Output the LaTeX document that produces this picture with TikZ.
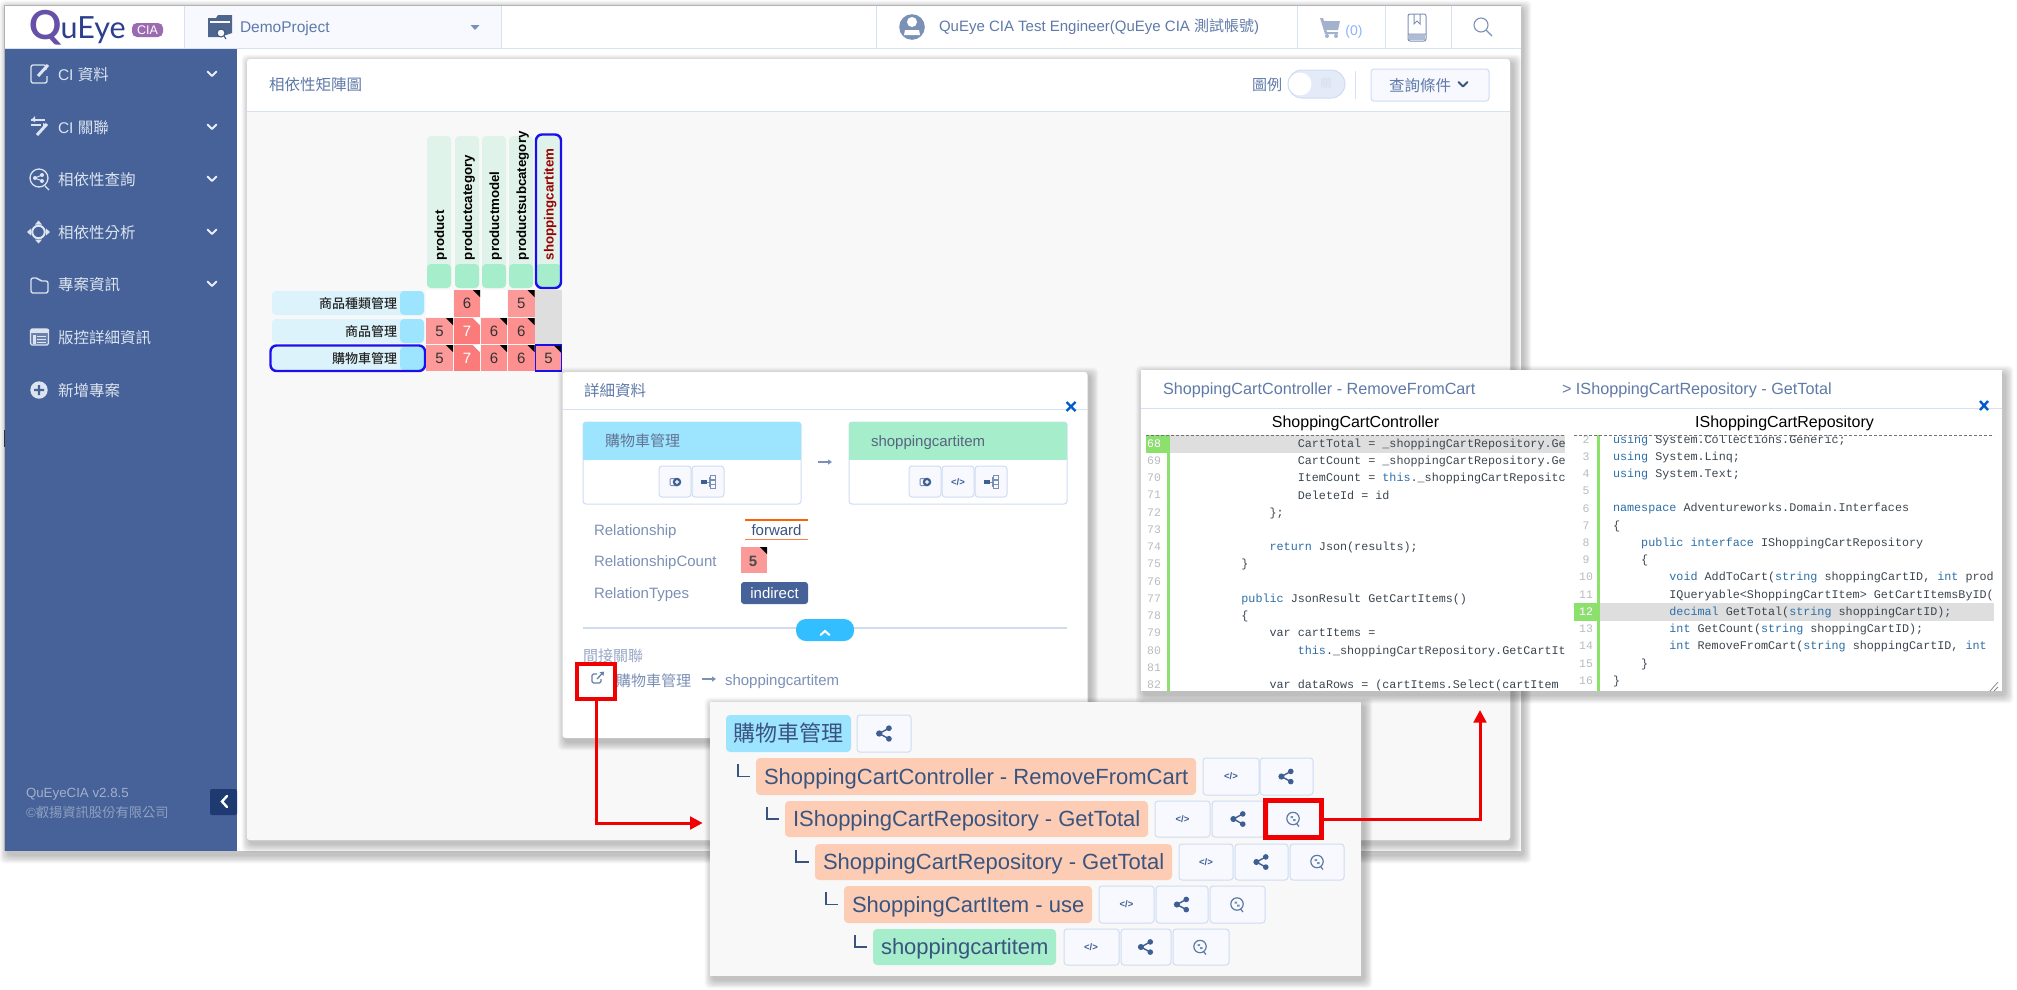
\documentclass[tikz,border=0pt]{standalone}
\usepackage{fontspec}
\usetikzlibrary{arrows.meta,calc}
\setmainfont{Liberation Sans}
\newfontfamily\cjk{Noto Sans CJK TC}
\newfontfamily\cjkm{Noto Sans CJK TC Medium}
\newfontfamily\codef{Liberation Mono}
\newfontfamily\logof{Lato}
\definecolor{sidebar}{HTML}{466298}
\definecolor{sbtext}{HTML}{DCE4F0}
\definecolor{hdrline}{HTML}{D6E1F3}
\definecolor{cardbg}{HTML}{F8F8F8}
\definecolor{titletxt}{HTML}{5F7AA8}
\definecolor{soft}{HTML}{7C90B6}
\definecolor{softer}{HTML}{98A8C6}
\definecolor{darktxt}{HTML}{3A5480}
\definecolor{blueS}{HTML}{9DE4FF}
\definecolor{blueL}{HTML}{DCF3FB}
\definecolor{greenS}{HTML}{A6EDCB}
\definecolor{greenL}{HTML}{DFF3EA}
\definecolor{peach}{HTML}{FCCDB4}
\definecolor{cfive}{HTML}{FC9A9A}
\definecolor{csix}{HTML}{FD8F8F}
\definecolor{cseven}{HTML}{FB7A7A}
\definecolor{selblue}{HTML}{1A10EE}
\definecolor{btnfill}{HTML}{F7F9FE}
\definecolor{btnline}{HTML}{CFDCF2}
\definecolor{icn}{HTML}{3F5F92}
\definecolor{kwblue}{HTML}{2C6FA8}
\definecolor{codetxt}{HTML}{3C4650}
\definecolor{gutnum}{HTML}{B8BCC0}
\definecolor{gutgreen}{HTML}{8CE06C}
\definecolor{hlgray}{HTML}{DEDEDE}
\definecolor{redbox}{HTML}{F00000}
\definecolor{pillblue}{HTML}{33BEFF}
\definecolor{logoq}{HTML}{6650A8}
\definecolor{logon}{HTML}{2B3F8C}
\definecolor{logob}{HTML}{9A6BB0}
\definecolor{togfill}{HTML}{E3EBF8}
\definecolor{collapsec}{HTML}{1F3A70}
\newcommand\fs[1]{\fontsize{#1}{#1}\selectfont}
\newcommand\zh[1]{{\cjk #1}}
\newcommand\kw[1]{\textcolor{kwblue}{#1}}
\tikzset{
  txt/.style={inner sep=0pt,outer sep=0pt},
  boxbase/.style={inner sep=0pt,outer sep=0pt},
  btnbox/.style={boxbase,draw=btnline,fill=btnfill,line width=1pt,rounded corners=3pt},
  peachrow/.style={boxbase,fill=peach,rounded corners=4pt},
  greenrow/.style={boxbase,fill=greenS,rounded corners=4pt},
  bluerow/.style={boxbase,fill=blueS,rounded corners=4pt},
  rowtxt/.style={txt,anchor=base west,font=\fs{22},text=darktxt},
  collight/.style={boxbase,fill=greenL,rounded corners=4pt},
  coldark/.style={boxbase,fill=greenS,rounded corners=4pt},
  collabel/.style={txt,rotate=90,anchor=base west,font=\fs{13.3}\bfseries,text=black},
  lablight/.style={boxbase,fill=blueL,rounded corners=4pt},
  labdark/.style={boxbase,fill=blueS,rounded corners=4pt},
  labeltxt/.style={txt,anchor=east,font=\fs{13}\cjkm,text=black!85},
  cellfive/.style={boxbase,fill=cfive,font=\fs{15},text=black!80},
  cellsix/.style={boxbase,fill=csix,font=\fs{15},text=black!80},
  cellseven/.style={boxbase,fill=cseven,font=\fs{15},text=white},
  cellblank/.style={boxbase,fill=white},
  cellgray/.style={boxbase,fill=hlgray},
  redframe/.style={boxbase,draw=redbox,line width=4.8pt},
  redarrow/.style={draw=redbox,line width=3pt,-{Triangle[length=12.5pt,width=12.5pt]}},
  treeel/.style={draw=darktxt,line width=1.4pt},
  codetext/.style={txt,anchor=base west,font=\fs{11.75}\codef,text=codetxt},
  gut/.style={txt,font=\fs{11.5}\codef,text=gutnum},
  sidetxt/.style={txt,anchor=west,font=\fs{15.5},text=sbtext},
  softtxt/.style={txt,anchor=west,font=\fs{15},text=soft}
}
\newcommand\bx[7]{\node[#1,minimum width={(#5-#3)*1pt},minimum height={(#6-#4)*1pt}] (#2) at ({(#3+#5)/2},{(#4+#6)/2}) {#7};}
\newcommand\softshadow[4]{\foreach \i in {1,...,7}{\fill[black,opacity=.035,rounded corners=5pt] ({#1-\i*1.2+3},{#2-\i*1.2+4}) rectangle ({#3+\i*1.2+3},{#4+\i*1.2+4});}}
\newcommand\corner[4]{\fill[#4] (#1,#2) -- ({#1-#3},#2) -- (#1,{#2+#3}) -- cycle;}
\newcommand\chev[3]{\draw[#3,line width=1.9pt,line cap=round,line join=round] ({#1-4.5},{#2-2.5}) -- (#1,{#2+2}) -- ({#1+4.5},{#2-2.5});}
\newcommand\icshare[3]{\begin{scope}[shift={(#1,#2)},scale=#3]
 \draw[icn,line width=1.4pt] (-6,0) -- (5,-6) (-6,0) -- (5,6);
 \fill[icn] (-6,0) circle (3.6) (5,-6) circle (3.3) (5,6) circle (3.3);\end{scope}}
\newcommand\icquery[2]{\begin{scope}[shift={(#1,#2)}]
 \draw[icn!85,line width=1.2pt] (0,-.5) circle (6.2) (3.5,4.5) -- (6,7.5);
 \fill[icn!70] (-2.5,-3) rectangle (0,-1) (0,0) rectangle (2.5,2);\end{scope}}
\newcommand\iccode[3]{\node[txt,font=\fs{9.5}\bfseries,text=icn] (#3) at (#1,#2) {</>};}
\newcommand\icadd[2]{\begin{scope}[shift={(#1,#2)}]
 \draw[icn!70,line width=1pt,rounded corners=1pt] (-5,-3.5) rectangle (3,3.5);
 \fill[icn] (2,0) circle (4.3);\fill[white] (.0,-.6) rectangle (4,.6) (1.4,-2) rectangle (2.6,2);\end{scope}}
\newcommand\ictree[2]{\begin{scope}[shift={(#1,#2)}]
 \fill[icn] (-7,-1.6) rectangle (-1,1.6);\draw[icn!70,line width=.9pt] (-1,0) -- (1,0) (1,-5) -- (1,5);
 \draw[icn!70,line width=.9pt] (2,-6.5) rectangle (7,-2.5) (2,-2) rectangle (7,2) (2,2.5) rectangle (7,6.5);\end{scope}}
\newcommand\icarrow[3]{\draw[#3,line width=1.5pt,-{Triangle[length=4pt,width=5pt]}] (#1,#2) -- ({#1+14},#2);}
\begin{document}
\begin{tikzpicture}[x=1pt,y=-1pt]
\useasboundingbox[fill=white] (0,0) rectangle (2017,989);
% ---------- window ----------
\softshadow{5}{5}{1520}{851}
\fill[white] (4.5,5) rectangle (1520.5,851);
\draw[black!30,line width=.8pt] (4.5,851) -- (4.5,5) -- (1520.5,5);
\fill[black!80] (3.7,430) rectangle (5,447);
\fill[white] (237,49) rectangle (1520.5,851);
% top bar
\fill[btnfill] (184,5.5) rectangle (501,48);
\draw[hdrline,line width=.9pt] (184,5.5) -- (184,48) (501,5.5) -- (501,48) (876,5.5) -- (876,48) (1297,5.5) -- (1297,48) (1385,5.5) -- (1385,48) (1451,5.5) -- (1451,48);
\draw[hdrline,line width=1.2pt] (4.5,48.6) -- (1520.5,48.6);
% logo
\node[txt,font=\fs{40}\logof\bfseries,text=logoq,anchor=base] (logoq) at (46,39) {Q};
\node[txt,font=\fs{30.5}\logof,text=logon,anchor=base west] (logot) at (60.5,38) {uEye};
\bx{boxbase,fill=logob,rounded corners=5pt,font=\fs{12.5},text=white}{logobadge}{132}{23}{163}{37}{CIA}
% project
\begin{scope}[shift={(220,27)}]
\fill[darktxt!90] (-12,-9) -- (-4,-9) -- (-2,-12) -- (12,-12) -- (12,6) -- (0,10) -- (-12,10) -- cycle;
\fill[btnfill] (-10,-6) -- (10,-6) -- (10,-4) -- (-10,-4) -- cycle;
\draw[darktxt,line width=1pt,fill=btnfill] (1,6) circle (4) (4,9) -- (6,12);
\end{scope}
\node[txt,anchor=west,font=\fs{15.5},text=titletxt] (demo) at (240,28) {DemoProject};
\fill[soft] (470.5,25) -- (479.5,25) -- (475,30) -- cycle;
% user
\fill[soft] (912,27) circle (12.8);
\fill[white] (912,22) circle (5) (904,35) -- (905,30) -- (919,30) -- (920,35) -- cycle;
\node[txt,anchor=west,font=\fs{15},text=titletxt] (user) at (939,27) {QuEye CIA Test Engineer(QuEye CIA \zh{測試帳號})};
\begin{scope}[shift={(1330,27)}]
\fill[soft!70] (-10,-9) -- (-7,-9) -- (-6,-6) -- (10,-6) -- (8,3) -- (-4,3) -- (-3,5) -- (8,5) -- (8,7) -- (-5,7) -- cycle;
\fill[soft!70] (-3,9) circle (2) (6,9) circle (2);
\end{scope}
\node[txt,font=\fs{14},text=blueS!70!blue!80] (cart) at (1354,32) {(0)};
\begin{scope}[shift={(1417,27)}]
\draw[soft,line width=1pt,rounded corners=2pt] (-9,-13) rectangle (9,14);
\draw[soft,line width=1pt] (-9,7) -- (9,7) (-3,-13) -- (-3,-3) -- (0,-6) -- (3,-3) -- (3,-13);
\fill[soft!60] (-8,8) rectangle (8,13);
\end{scope}
\draw[soft,line width=1.1pt] (1481,25) circle (7) (1486,30) -- (1492,36);
% ---------- sidebar ----------
\fill[sidebar] (5,49) rectangle (237,851);
\foreach \yy/\lab/\cc in {74/{CI \zh{資料}}/1,127/{CI \zh{關聯}}/1,179/{\zh{相依性查詢}}/1,232/{\zh{相依性分析}}/1,284/{\zh{專案資訊}}/1,337/{\zh{版控詳細資訊}}/0,390/{\zh{新增專案}}/0}{
  \node[sidetxt] (side\yy) at (58,\yy+1) {\lab};
  \ifnum\cc=1 \chev{212}{\yy}{sbtext!60} \fi
}
\begin{scope}[sbtext,line width=1.3pt]
\draw[rounded corners=2pt] (46,70) -- (46,65) -- (31,65) -- (31,83) -- (47,83) -- (47,76);
\draw[line width=3pt] (38,76) -- (48,65);
\draw (31,120) -- (45,120) (31,125) -- (41,125);
\fill (35,116) -- (31,120) -- (35,122) -- cycle (43,123) -- (47,125) -- (43,128) -- cycle;
\draw[line width=3pt] (37,135) -- (47,124);
\draw (39,178) circle (9) (45,186) -- (49,190);
\fill (35,178) circle (2) (42,175) circle (2) (42,181) circle (2);
\draw[line width=1pt] (35,178) -- (42,175) (35,178) -- (42,181);
\draw[line width=2pt] (38.5,232) circle (6.3);
\fill (38.5,220.5) -- (42,224.5) -- (35,224.5) -- cycle (38.5,243.5) -- (42,239.5) -- (35,239.5) -- cycle
      (27,232) -- (31,228.5) -- (31,235.5) -- cycle (50,232) -- (46,228.5) -- (46,235.5) -- cycle;
\draw[rounded corners=2pt] (31,278) -- (38,278) -- (40,281) -- (48,281) -- (48,293) -- (31,293) -- cycle;
\draw[rounded corners=1.5pt,fill=sbtext!25!sidebar] (30.5,329) rectangle (48.5,345);
\fill (30.5,329) rectangle (48.5,333);
\fill (33,335) rectangle (35.5,343.5);
\draw[line width=1pt] (37,336) -- (46,336) (37,339) -- (46,339) (37,342) -- (46,342);
\fill (39,390) circle (8.7);
\fill[sidebar] (34,388.8) rectangle (44,391.2) (37.8,385) rectangle (40.2,395);
\end{scope}
\node[txt,anchor=west,font=\fs{13.3},text=white!50!sidebar] (ver) at (26,794) {QuEyeCIA v2.8.5};
\node[txt,anchor=west,font=\fs{13.3},text=white!40!sidebar] (copy) at (26,812) {©\zh{叡揚資訊股份有限公司}};
\bx{boxbase,fill=collapsec,rounded corners=2pt}{collapse}{210}{789}{237}{815}{}
\draw[white,line width=2.4pt,line cap=round] (227,796) -- (222,801.5) -- (227,807);
% ---------- card ----------
\softshadow{247}{59}{1510}{840}
\fill[white,rounded corners=3pt] (247,59) rectangle (1510,840);
\fill[cardbg,rounded corners=3pt] (247,111) rectangle (1510,840);
\draw[hdrline,line width=1pt] (247,111) -- (1510,111);
\node[txt,anchor=west,font=\fs{15.5}\cjk,text=titletxt] (cardtitle) at (269,85) {相依性矩陣圖};
\node[txt,anchor=west,font=\fs{15}\cjk,text=titletxt] (legend) at (1252,85) {圖例};
\bx{boxbase,fill=togfill,draw=btnline,line width=1pt,rounded corners=14pt}{toggle}{1288}{70}{1345}{98}{}
\fill[white] (1300,84) circle (11.5);
\node[txt,font=\fs{11}\cjk,text=white!70!soft] (toglab) at (1326,84) {關};
\draw[hdrline,line width=.9pt] (1355,71) -- (1355,99);
\bx{btnbox}{query}{1371}{69}{1489}{101}{}
\node[txt,font=\fs{15.5}\cjk,text=titletxt] (querylab) at (1420,85.5) {查詢條件};
\chev{1463}{84.5}{darktxt}
% ---------- matrix ----------
\foreach \xa/\xb/\nm/\lbl in {427/451/a/product,455/479/b/productcategory,482/506/c/productmodel,509/533/d/productsubcategory}{
  \bx{collight}{col\nm}{\xa}{136}{\xb}{288}{}
  \bx{coldark}{cold\nm}{\xa}{264}{\xb}{288}{}
  \node[collabel] (lab\nm) at ({(\xa+\xb)/2+5.2},260) {\lbl};
}
\bx{collight}{cole}{536}{135}{561}{288}{}
\bx{coldark}{colde}{536}{264}{561}{288}{}
\node[collabel,text=red!60!black] (labe) at (553.5,260) {shoppingcartitem};
\draw[selblue,line width=2.4pt,rounded corners=6pt] (536,134.5) rectangle (561,288);
\foreach \ya/\yb/\nm/\lbl in {291/315/p/商品種類管理,319/343/q/商品管理,347/370/r/購物車管理}{
  \bx{lablight}{rw\nm}{272}{\ya}{424}{\yb}{}
  \bx{labdark}{rwd\nm}{400}{\ya}{424}{\yb}{}
  \node[labeltxt] (rwt\nm) at (397,{(\ya+\yb)/2+.5}) {\lbl};
}
\draw[selblue,line width=2.4pt,rounded corners=6pt] (270.5,345.5) rectangle (425,371);
% cells
\bx{cellblank}{c11}{426}{290}{453}{317}{}
\bx{cellsix}{c12}{454}{290}{480}{317}{6}
\bx{cellblank}{c13}{481}{290}{507}{317}{}
\bx{cellfive}{c14}{508}{290}{534.5}{317}{5}
\bx{cellgray}{c15}{535}{290}{562}{317}{}
\bx{cellfive}{c21}{426}{318}{453}{344}{5}
\bx{cellseven}{c22}{454}{318}{480}{344}{7}
\bx{cellsix}{c23}{481}{318}{507}{344}{6}
\bx{cellsix}{c24}{508}{318}{534.5}{344}{6}
\bx{cellgray}{c25}{535}{317}{562}{344}{}
\bx{cellfive}{c31}{426}{345}{453}{371}{5}
\bx{cellseven}{c32}{454}{345}{480}{371}{7}
\bx{cellsix}{c33}{481}{345}{507}{371}{6}
\bx{cellsix}{c34}{508}{345}{534.5}{371}{6}
\bx{cellfive,draw=selblue,line width=1.6pt}{c35}{535.5}{345}{561.5}{371}{5}
\corner{480}{290}{7}{black}\corner{534.5}{290}{7}{black}
\corner{453}{318}{7}{black}\corner{480}{318}{7}{white}\corner{507}{318}{7}{black}\corner{534.5}{318}{7}{black}
\corner{453}{345}{7}{black}\corner{480}{345}{7}{white}\corner{507}{345}{7}{black}\corner{534.5}{345}{7}{black}\corner{561}{345.5}{7}{black}
% ---------- detail panel ----------
\softshadow{563}{372}{1087}{738}
\fill[white,rounded corners=3pt] (562.5,372) rectangle (1087.5,738);
\node[txt,anchor=west,font=\fs{15.5}\cjk,text=titletxt] (dettitle) at (584,391) {詳細資料};
\draw[hdrline,line width=1pt] (562.5,409) -- (1087.5,409);
\draw[blue!55!cyan!80!black,line width=2.4pt] (1066.5,402) -- (1075.5,411) (1066.5,411) -- (1075.5,402);
\bx{boxbase,draw=btnline,line width=1pt,rounded corners=3pt}{dleft}{583}{422}{801}{504}{}
\bx{boxbase,draw=btnline,line width=1pt,rounded corners=3pt}{dright}{849}{422}{1067}{504}{}
\fill[blueS,rounded corners=3pt] (583,422) rectangle (801,430);\fill[blueS] (583,426) rectangle (801,460);
\fill[greenS,rounded corners=3pt] (849,422) rectangle (1067,430);\fill[greenS] (849,426) rectangle (1067,460);
\node[txt,anchor=west,font=\fs{15}\cjk,text=soft!80!black] (dlt) at (605,441) {購物車管理};
\node[txt,anchor=west,font=\fs{15},text=soft!70!black] (drt) at (871,443) {shoppingcartitem};
\icarrow{818}{462}{soft}
\bx{btnbox}{b1}{659}{466}{691}{497}{}\icadd{675}{482}
\bx{btnbox}{b2}{692}{466}{724}{497}{}\ictree{708}{482}
\bx{btnbox}{b3}{909}{466}{941}{497}{}\icadd{925}{482}
\bx{btnbox}{b4}{942}{466}{974}{497}{}\iccode{958}{482}{b4c}
\bx{btnbox}{b5}{975}{466}{1007}{497}{}\ictree{991}{482}
\node[softtxt] (r1) at (594,532) {Relationship};
\node[softtxt] (r2) at (594,563) {RelationshipCount};
\node[softtxt] (r3) at (594,595) {RelationTypes};
\node[txt,font=\fs{15},text=darktxt] (fw) at (776.5,530) {forward};
\draw[orange!75!red,line width=1.1pt] (745,520) -- (808,520);
\draw[orange!55!red!70,line width=1.1pt] (745,539.5) -- (808,539.5);
\bx{cellfive,font=\fs{15}\bfseries,text=black!70}{dfive}{741}{547}{767}{573}{}
\node[txt,font=\fs{15}\bfseries,text=black!70] (dfivet) at (753,561) {5};
\corner{767}{547}{7}{black}
\bx{boxbase,fill=sidebar,rounded corners=3pt,font=\fs{15},text=white}{indirect}{741}{582}{808}{604}{indirect}
\draw[btnline,line width=1.2pt] (583,628) -- (1067,628);
\bx{boxbase,fill=pillblue,rounded corners=10pt}{pill}{796}{619}{854}{641}{}
\draw[white,line width=2pt,line cap=round] (820.5,635) -- (825,631) -- (829.5,635);
\node[txt,anchor=west,font=\fs{15}\cjk,text=softer] (indir) at (583,656) {間接關聯};
\node[txt,anchor=west,font=\fs{15}\cjk,text=soft] (indt1) at (616,680.5) {購物車管理};
\icarrow{702}{679}{soft}
\node[txt,anchor=west,font=\fs{15},text=soft] (indt2) at (725,681.5) {shoppingcartitem};
\bx{redframe}{extbox}{577}{664}{615}{699}{}
\begin{scope}[shift={(598,678)}]
\draw[icn!80,line width=1.1pt,rounded corners=1.5pt] (3,1) -- (3,5) -- (-6,5) -- (-6,-4) -- (-1,-4);
\draw[icn!80,line width=1.3pt,-{Triangle[length=3.5pt,width=5pt]}] (-1,1) -- (6,-6.5);
\end{scope}
% ---------- tree panel ----------
\softshadow{710}{702}{1361}{976}
\fill[cardbg] (710,702) rectangle (1361,976);
\bx{bluerow,font=\fs{22}\cjk,text=darktxt}{t0}{726}{715}{851}{752}{購物車管理}
\bx{btnbox}{t0s}{857}{715}{911}{752}{}\icshare{884.5}{733.5}{.88}
\foreach \xa/\xb/\ya/\yb/\nm/\lbl/\st in {756/1196/758/795/t1/{ShoppingCartController - RemoveFromCart}/peachrow,785/1148/801/837/t2/{IShoppingCartRepository - GetTotal}/peachrow,815/1172/844/880/t3/{ShoppingCartRepository - GetTotal}/peachrow,844/1092/886/923/t4/{ShoppingCartItem - use}/peachrow,873/1056/929/965/t5/{shoppingcartitem}/greenrow}{
  \bx{\st}{\nm}{\xa}{\ya}{\xb}{\yb}{}
  \node[rowtxt] (\nm txt) at ({\xa+8},{(\ya+\yb)/2+7.5}) {\lbl};
}
\draw[treeel] (738,764) |- ([xshift=-6pt]t1.west);
\draw[treeel] (767,807) |- ([xshift=-6pt]t2.west);
\draw[treeel] (796,850) |- ([xshift=-6pt]t3.west);
\draw[treeel] (826,892) |- ([xshift=-6pt]t4.west);
\draw[treeel] (855,935) |- ([xshift=-6pt]t5.west);
\bx{btnbox}{t1c}{1203}{758}{1259}{795}{}\iccode{1231}{776.5}{t1ci}
\bx{btnbox}{t1s}{1260}{758}{1313}{795}{}\icshare{1286.5}{776.5}{.85}
\bx{btnbox}{t2c}{1155}{801}{1210}{837}{}\iccode{1182.5}{819}{t2ci}
\bx{btnbox}{t2s}{1212}{801}{1265}{837}{}\icshare{1238.5}{819}{.85}
\bx{btnbox}{t2q}{1268}{801}{1320}{837}{}\icquery{1293}{819}
\bx{btnbox}{t3c}{1179}{844}{1233}{880}{}\iccode{1206}{862}{t3ci}
\bx{btnbox}{t3s}{1235}{844}{1288}{880}{}\icshare{1261.5}{862}{.85}
\bx{btnbox}{t3q}{1290}{844}{1344}{880}{}\icquery{1317}{862}
\bx{btnbox}{t4c}{1099}{886}{1154}{923}{}\iccode{1126.5}{904.5}{t4ci}
\bx{btnbox}{t4s}{1156}{886}{1208}{923}{}\icshare{1182}{904.5}{.85}
\bx{btnbox}{t4q}{1210}{886}{1265}{923}{}\icquery{1237}{904.5}
\bx{btnbox}{t5c}{1064}{929}{1119}{965}{}\iccode{1091}{947}{t5ci}
\bx{btnbox}{t5s}{1121}{929}{1171}{965}{}\icshare{1146}{947}{.85}
\bx{btnbox}{t5q}{1173}{929}{1229}{965}{}\icquery{1200}{947}
\bx{redframe}{qbox}{1265.5}{800.5}{1321.5}{837.5}{}
% ---------- code panel ----------
\softshadow{1141}{370}{2002}{691}
\fill[white] (1141,370) rectangle (2002,691);
\node[txt,anchor=west,font=\fs{16.2},text=titletxt] (chl) at (1163,390) {ShoppingCartController - RemoveFromCart};
\node[txt,anchor=west,font=\fs{16.2},text=titletxt] (chr) at (1562,390) {> IShoppingCartRepository - GetTotal};
\draw[hdrline,line width=1pt] (1141,408) -- (2002,408);
\draw[blue!55!cyan!80!black,line width=2.4pt] (1980,401) -- (1988,410) (1980,410) -- (1988,401);
\node[txt,font=\fs{16},text=black] (ctl) at (1355.5,423) {ShoppingCartController};
\node[txt,font=\fs{16},text=black] (ctr) at (1784.5,423) {IShoppingCartRepository};
\newcommand\codeL[3]{\node[codetext] (cl#1) at ({1185+7.05*#2},{447.3+17.23*(#1-68)}) {#3};\node[gut] (gl#1) at (1154,{443.5+17.23*(#1-68)}) {#1};}
\newcommand\codeR[3]{\node[codetext] (cr#1) at ({1613+7.05*#2},{443+17.23*(#1-2)}) {#3};\node[gut] (gr#1) at (1586,{439.3+17.23*(#1-2)}) {#1};}
\begin{scope}
\clip (1146,435) rectangle (1565,691);
\fill[hlgray] (1170,435) rectangle (1565,453);
\fill[gutgreen] (1146,435) rectangle (1167,453);
\fill[gutgreen] (1167,435) rectangle (1170,691);
\codeL{68}{16}{CartTotal = \_shoppingCartRepository.Ge}
\codeL{69}{16}{CartCount = \_shoppingCartRepository.Ge}
\codeL{70}{16}{ItemCount = \kw{this}.\_shoppingCartRepositc}
\codeL{71}{16}{DeleteId = id}
\codeL{72}{12}{\};}
\codeL{73}{12}{}
\codeL{74}{12}{\kw{return} Json(results);}
\codeL{75}{8}{\}}
\codeL{76}{8}{}
\codeL{77}{8}{\kw{public} JsonResult GetCartItems()}
\codeL{78}{8}{\{}
\codeL{79}{12}{var cartItems =}
\codeL{80}{16}{\kw{this}.\_shoppingCartRepository.GetCartIt}
\codeL{81}{12}{}
\codeL{82}{12}{var dataRows = (cartItems.Select(cartItem}
\node[gut,text=white] (g68w) at (1154,443.5) {68};
\end{scope}
\begin{scope}
\clip (1574,435) rectangle (1994,691);
\fill[hlgray] (1600,603) rectangle (1994,621);
\fill[gutgreen] (1574,603) rectangle (1597,621);
\fill[gutgreen] (1597,435) rectangle (1600,691);
\codeR{2}{0}{\kw{using} System.Collections.Generic;}
\codeR{3}{0}{\kw{using} System.Linq;}
\codeR{4}{0}{\kw{using} System.Text;}
\codeR{5}{0}{}
\codeR{6}{0}{\kw{namespace} Adventureworks.Domain.Interfaces}
\codeR{7}{0}{\{}
\codeR{8}{4}{\kw{public} \kw{interface} IShoppingCartRepository}
\codeR{9}{4}{\{}
\codeR{10}{8}{\kw{void} AddToCart(\kw{string} shoppingCartID, \kw{int} prod}
\codeR{11}{8}{IQueryable<ShoppingCartItem> GetCartItemsByID(}
\codeR{12}{8}{\kw{decimal} GetTotal(\kw{string} shoppingCartID);}
\codeR{13}{8}{\kw{int} GetCount(\kw{string} shoppingCartID);}
\codeR{14}{8}{\kw{int} RemoveFromCart(\kw{string} shoppingCartID, \kw{int}}
\codeR{15}{4}{\}}
\codeR{16}{0}{\}}
\node[gut,text=white] (g12w) at (1586,612) {12};
\end{scope}
\draw[black!55,densely dashed,line width=.6pt] (1146,435) -- (1565,435) (1574,435) -- (1994,435);
\draw[black!45,line width=.8pt] (1990,691) -- (1998,682) (1994,691) -- (1998,687);
% ---------- red connectors ----------
\coordinate (tipA) at (702.7,823);
\coordinate (tipB) at (1480,710);
\draw[redarrow] (extbox.south) |- (tipA);
\draw[redarrow] (qbox.east) -| (tipB);
\end{tikzpicture}
\end{document}
